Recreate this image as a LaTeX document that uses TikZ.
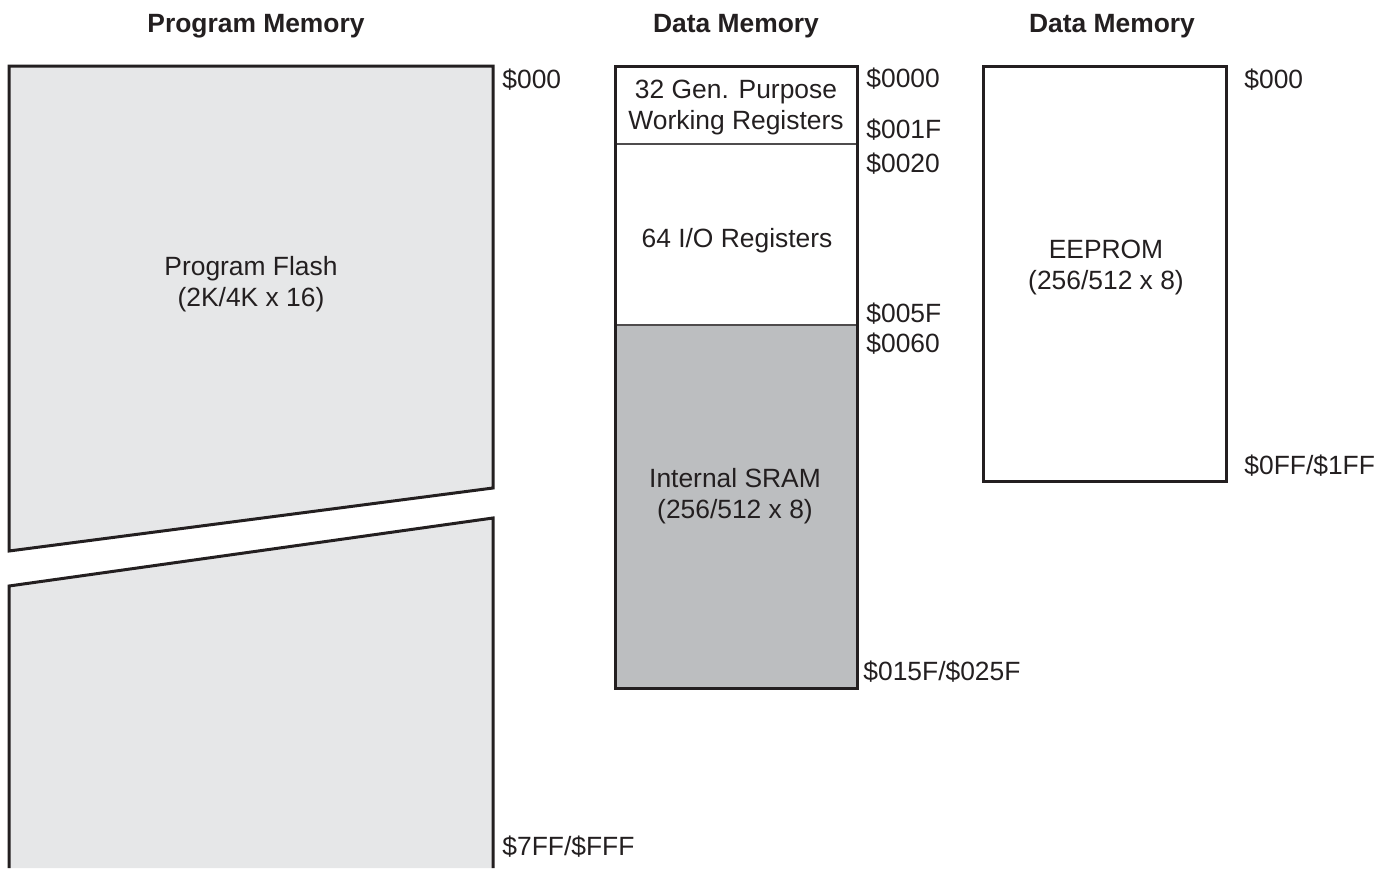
\documentclass[tikz,border=0pt]{standalone}
\usepackage{fontspec}
\setmainfont{Liberation Sans}
\usepackage{tikz}

\definecolor{ink}{HTML}{231F20}
\definecolor{flashgray}{HTML}{E6E7E8}
\definecolor{sramgray}{HTML}{BCBEC0}

\tikzset{
    memline/.style={draw=ink,line width=1.5pt},
    divline/.style={draw=ink!80,line width=0.8pt},
    addr/.style={anchor=base west,inner sep=0pt,text=ink,font=\fontsize{13.2}{15.5}\selectfont},
    blocktext/.style={align=center,inner sep=0pt,text=ink,font=\fontsize{13.2}{15.5}\selectfont},
    heading/.style={anchor=base,inner sep=0pt,text=ink,font=\fontsize{13.2}{15.5}\selectfont\bfseries}
}

\begin{document}
\begin{tikzpicture}[x=0.5pt,y=-0.5pt]
        \useasboundingbox (0,0) rectangle (1391,868);
        % program flash, broken in two
        \draw[memline,fill=flashgray] (9,66) -- (493,66) -- (493,488) -- (9,551) -- cycle;
        \fill[flashgray] (9,586) -- (493,518) -- (493,868) -- (9,868) -- cycle;
        \draw[memline] (9,868) -- (9,586) -- (493,518) -- (493,868);
        % data memory
        \fill[sramgray] (615,325) rectangle (857,688);
        \foreach \y in {144,325}
            \draw[divline] (615,\y) -- (857,\y);
        \draw[memline] (615,66) rectangle (857,688);
        % eeprom
        \draw[memline] (983,66) rectangle (1226,481);

        \node[heading] (progtitle) at (256,32) {Program Memory};
        \node[heading] (datatitle) at (736,32) {Data Memory};
        \node[heading] (eetitle) at (1112,32) {Data Memory};

        \node[blocktext] (flash) at (251,284) {Program Flash\\(2K/4K x 16)};
        \node[blocktext] (gpr) at (736,108) {32 Gen. Purpose\\Working Registers};
        \node[blocktext,anchor=base] (io) at (737,247) {64 I/O Registers};
        \node[blocktext] (sram) at (735,496) {Internal SRAM\\(256/512 x 8)};
        \node[blocktext] (eeprom) at (1106,268) {EEPROM\\(256/512 x 8)};

        \foreach \n/\x/\y/\t in {pa/502/88/{\$000}, pb/502/855/{\$7FF/\$FFF},
                da/866/87/{\$0000}, db/866/138/{\$001F}, dc/866/172/{\$0020},
                dd/866/322/{\$005F}, de/866/352/{\$0060}, df/863/680/{\$015F/\$025F},
                ea/1244/88/{\$000}, eb/1244/474/{\$0FF/\$1FF}}
            \node[addr] (\n) at (\x,\y) {\t};
\end{tikzpicture}
\end{document}
